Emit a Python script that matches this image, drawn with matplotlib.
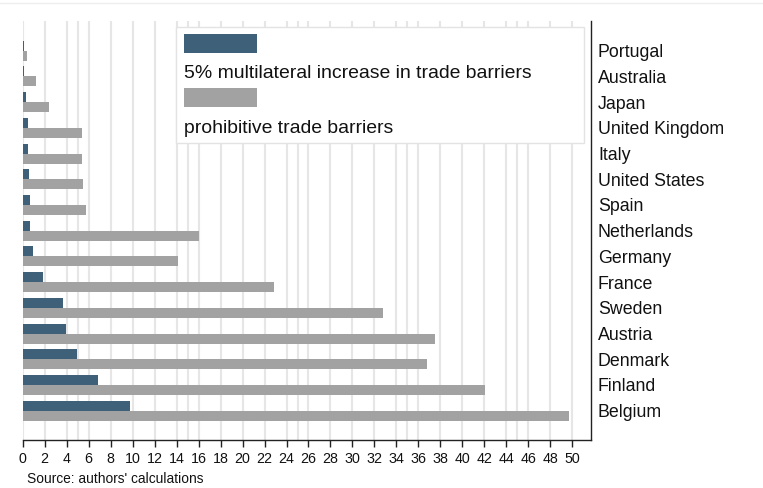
import matplotlib
matplotlib.use("Agg")
import matplotlib.pyplot as plt
from matplotlib.patches import Rectangle
from matplotlib.lines import Line2D
import numpy as np

plt.rcParams['font.family'] = ['Liberation Sans', 'DejaVu Sans']

countries = ["Portugal", "Australia", "Japan", "United Kingdom", "Italy",
             "United States", "Spain", "Netherlands", "Germany", "France",
             "Sweden", "Austria", "Denmark", "Finland", "Belgium"]
increase_5pct = [0.1, 0.12, 0.27, 0.46, 0.48, 0.55, 0.67, 0.7, 0.97, 1.85,
                 3.7, 3.98, 4.98, 6.84, 9.73]
prohibitive = [0.4, 1.2, 2.4, 5.35, 5.35, 5.47, 5.78, 16.0, 14.1, 22.9,
               32.8, 37.5, 36.8, 42.1, 49.7]
xticks = list(range(0, 51, 2))
label_5pct = "5% multilateral increase in trade barriers"
label_prohib = "prohibitive trade barriers"
source_note = "Source: authors' calculations"

BLUE = "#3e6179"
GREY = "#a2a2a2"
GRID = "#e6e6e6"

W, H = 763, 488
fig = plt.figure(figsize=(W / 100, H / 100), dpi=100)


def fx(px):
    return px / W


def fy(py):
    return 1 - py / H


ax_l, ax_r, ax_t, ax_b = 22.7, 591, 21, 440
ax = fig.add_axes([fx(ax_l), fy(ax_b), fx(ax_r) - fx(ax_l), fy(ax_t) - fy(ax_b)])

y = np.arange(len(countries))
h = 0.389
ax.barh(y - h / 2, increase_5pct, height=h, color=BLUE, edgecolor="none", zorder=3)
ax.barh(y + h / 2, prohibitive, height=h, color=GREY, edgecolor="none", zorder=3)

ax.set_xlim(0, 51.7)
ax.set_ylim(len(countries) - 1 + 1.14, -1.155)

# vertical grid at every 2 and every 5 units
grid_x = sorted(set(range(0, 52, 2)) | set(range(0, 52, 5)))
for gx in grid_x:
    ax.axvline(gx, color=GRID, lw=1.5, zorder=1)

ax.set_xticks(xticks)
ax.set_xticklabels([str(t) for t in xticks], fontsize=10.3, color="#111111")
ax.tick_params(axis="x", direction="out", length=5, width=1, color="#222222", pad=3.5)

ax.yaxis.tick_right()
ax.set_yticks(y)
ax.set_yticklabels(countries, fontsize=12.8, color="#111111")
ax.tick_params(axis="y", length=0, pad=5)

for side in ("top", "left"):
    ax.spines[side].set_visible(False)
for side in ("bottom", "right"):
    ax.spines[side].set_color("#222222")
    ax.spines[side].set_linewidth(1)

# legend box with swatches stacked above their labels
tr = fig.transFigure
fig.add_artist(Rectangle((fx(176), fy(143)), fx(584) - fx(176), fy(27.3) - fy(143),
                         transform=tr, facecolor="white", edgecolor="#e3e3e3",
                         lw=1, zorder=5))
fig.add_artist(Rectangle((fx(184), fy(53)), fx(257) - fx(184), fy(34) - fy(53),
                         transform=tr, facecolor=BLUE, edgecolor="none", zorder=6))
fig.add_artist(Rectangle((fx(184), fy(107)), fx(257) - fx(184), fy(88) - fy(107),
                         transform=tr, facecolor=GREY, edgecolor="none", zorder=6))
fig.text(fx(184), fy(73), label_5pct, fontsize=13.95, color="#111111",
         va="center", ha="left", zorder=7)
fig.text(fx(184), fy(128), label_prohib, fontsize=13.95, color="#111111",
         va="center", ha="left", zorder=7)

fig.text(fx(27), fy(479), source_note, fontsize=9.9, color="#111111",
         va="center", ha="left")

fig.add_artist(Line2D([0, 1], [fy(3), fy(3)], transform=tr, color="#eeeeee", lw=1))

fig.savefig("out.png", dpi=100)
